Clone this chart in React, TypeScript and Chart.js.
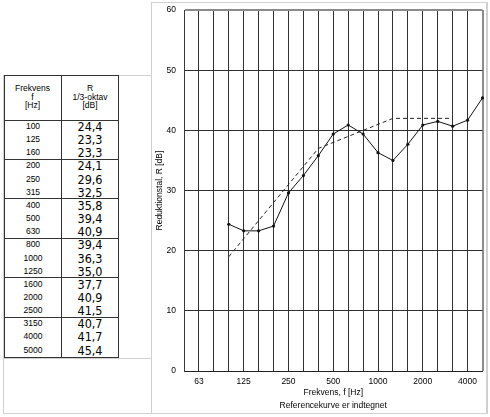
import React, { useEffect, useRef } from "react";
import { Chart, registerables } from "chart.js";

Chart.register(...registerables);

// 1/3-octave bands on the x axis (50 Hz .. 5000 Hz)
const bands = ["50", "63", "80", "100", "125", "160", "200", "250", "315", "400", "500", "630", "800", "1000", "1250", "1600", "2000", "2500", "3150", "4000", "5000"];
const shownXTicks = ["63", "125", "250", "500", "1000", "2000", "4000"];

// measured values (table)
const tableFreqs = ["100", "125", "160", "200", "250", "315", "400", "500", "630", "800", "1000", "1250", "1600", "2000", "2500", "3150", "4000", "5000"];
const measuredR = [24.4, 23.3, 23.3, 24.1, 29.6, 32.5, 35.8, 39.4, 40.9, 39.4, 36.3, 35.0, 37.7, 40.9, 41.5, 40.7, 41.7, 45.4];

// shifted reference curve, 100 .. 3150 Hz
const referenceFreqs = ["100", "125", "160", "200", "250", "315", "400", "500", "630", "800", "1000", "1250", "1600", "2000", "2500", "3150"];
const referenceR = [19, 22, 25, 28, 31, 34, 37, 38, 39, 40, 41, 42, 42, 42, 42, 42];

const yTicks = [0, 10, 20, 30, 40, 50, 60];

const FONT = "'Liberation Sans', Arial, sans-serif";

function seriesOnBands(freqs: string[], vals: number[]) {
  return bands.map((b) => {
    const i = freqs.indexOf(b);
    return i >= 0 ? vals[i] : null;
  });
}

function ChartPanel() {
  const ref = useRef<HTMLCanvasElement>(null);
  useEffect(() => {
    if (!ref.current) return;
    const chart = new Chart(ref.current, {
      type: "line",
      data: {
        labels: bands,
        datasets: [
          {
            data: seriesOnBands(tableFreqs, measuredR),
            borderColor: "#111",
            backgroundColor: "#111",
            borderWidth: 1,
            pointRadius: 1.6,
            pointBorderWidth: 0,
            tension: 0,
            fill: false,
          },
          {
            data: seriesOnBands(referenceFreqs, referenceR),
            borderColor: "#222",
            borderWidth: 1,
            borderDash: [4, 3],
            pointRadius: 0,
            tension: 0,
            fill: false,
          },
        ],
      },
      options: {
        responsive: false,
        animation: false,
        devicePixelRatio: 1,
        layout: { padding: { top: 0, right: 4, left: 0, bottom: 0 } },
        plugins: { legend: { display: false }, tooltip: { enabled: false } },
        scales: {
          x: {
            type: "category",
            offset: false,
            afterFit: (s: any) => {
              s.height = 43;
            },
            grid: {
              drawTicks: false,
              color: (c: any) => (c.index === bands.length - 1 ? "#8c8c8c" : "#333"),
              lineWidth: (c: any) => (c.index === bands.length - 1 ? 2 : 1),
            },
            border: { display: true, color: "#222", width: 1 },
            ticks: {
              autoSkip: false,
              maxRotation: 0,
              padding: 5.5,
              color: "#000",
              font: { family: FONT, size: 8.5 },
              callback: (_v: any, i: number) => (shownXTicks.includes(bands[i]) ? bands[i] : ""),
            },
            title: {
              display: true,
              text: ["Frekvens, f [Hz]", "Referencekurve er indtegnet"],
              color: "#000",
              font: { family: FONT, size: 8.5, lineHeight: 13 / 8.5 },
              padding: { top: 0, bottom: 1.5 },
            },
          },
          y: {
            min: 0,
            max: 60,
            afterFit: (s: any) => {
              s.width = 32;
            },
            afterBuildTicks: (s: any) => {
              s.ticks = yTicks.map((v) => ({ value: v }));
            },
            grid: {
              drawTicks: false,
              color: (c: any) => (c.tick && c.tick.value === 60 ? "#8c8c8c" : "#2e2e2e"),
              lineWidth: (c: any) => (c.tick && c.tick.value === 60 ? 2 : 1),
            },
            border: { display: true, color: "#3a3a3a", width: 1 },
            ticks: {
              padding: 8,
              color: "#000",
              font: { family: FONT, size: 8.5 },
            },
            title: {
              display: true,
              text: "Reduktionstal, R [dB]",
              color: "#000",
              font: { family: FONT, size: 8.5 },
              padding: { top: 3, bottom: 0 },
            },
          },
        },
      },
    } as any);
    return () => chart.destroy();
  }, []);
  return (
    <canvas
      ref={ref}
      width={336}
      height={417}
      style={{ position: "absolute", left: 152, top: -3, width: 336, height: 417 }}
    />
  );
}

const ROW_TOP = 120;
const ROW_H = 13.15;

function DataTable() {
  const cells: React.ReactNode[] = [];
  tableFreqs.forEach((f, i) => {
    const top = ROW_TOP + i * ROW_H;
    cells.push(
      <div key={"f" + f} style={{ position: "absolute", left: 4, width: 58, top, height: ROW_H, lineHeight: ROW_H + "px", textAlign: "center", fontFamily: FONT, fontSize: 8.5, color: "#000" }}>
        {f}
      </div>
    );
    cells.push(
      <div key={"r" + f} style={{ position: "absolute", left: 62, width: 56, top, height: ROW_H, lineHeight: ROW_H + "px", textAlign: "center", fontFamily: "'Liberation Sans Narrow', 'DejaVu Sans Condensed', 'Liberation Sans', sans-serif", fontSize: 12.5, color: "#000" }}>
        {measuredR[i].toFixed(1).replace(".", ",")}
      </div>
    );
  });
  const groupLines: React.ReactNode[] = [];
  for (let g = 1; g < 6; g++) {
    groupLines.push(
      <div key={"g" + g} style={{ position: "absolute", left: 4, width: 114, top: ROW_TOP + g * 3 * ROW_H - 0.5, height: 1, background: "#333" }} />
    );
  }
  const header = { position: "absolute" as const, top: 84, fontFamily: FONT, fontSize: 8.5, lineHeight: "8.6px", textAlign: "center" as const, color: "#000" };
  return (
    <>
      {/* light panel frames */}
      <div style={{ position: "absolute", left: 3, top: 75, width: 148, height: 283, borderLeft: "1px solid #d0d0d0", borderTop: "1px solid #d0d0d0", boxSizing: "border-box" }} />
      <div style={{ position: "absolute", left: 3, top: 358, width: 149, height: 56, border: "1px solid #d0d0d0", borderRight: "none", boxSizing: "border-box" }} />
      {/* table box */}
      <div style={{ position: "absolute", left: 4, top: 75, width: 115, height: 283, border: "1px solid #333", boxSizing: "border-box" }} />
      <div style={{ position: "absolute", left: 61, top: 75, width: 1, height: 283, background: "#333" }} />
      <div style={{ position: "absolute", left: 4, top: ROW_TOP - 0.5, width: 114, height: 1, background: "#333" }} />
      {groupLines}
      <div style={{ ...header, left: 4, width: 57 }}>
        Frekvens<br />f<br />[Hz]
      </div>
      <div style={{ ...header, left: 62, width: 56 }}>
        R<br />1/3-oktav<br />[dB]
      </div>
      {cells}
    </>
  );
}

export default function App() {
  return (
    <div style={{ position: "absolute", left: 0, top: 0, width: 490, height: 417, background: "#fff", overflow: "hidden" }}>
      <DataTable />
      <div style={{ position: "absolute", left: 151, top: 2, width: 337, height: 412, border: "1px solid #d0d0d0", borderRightWidth: 2, boxSizing: "border-box" }} />
      <ChartPanel />
    </div>
  );
}
